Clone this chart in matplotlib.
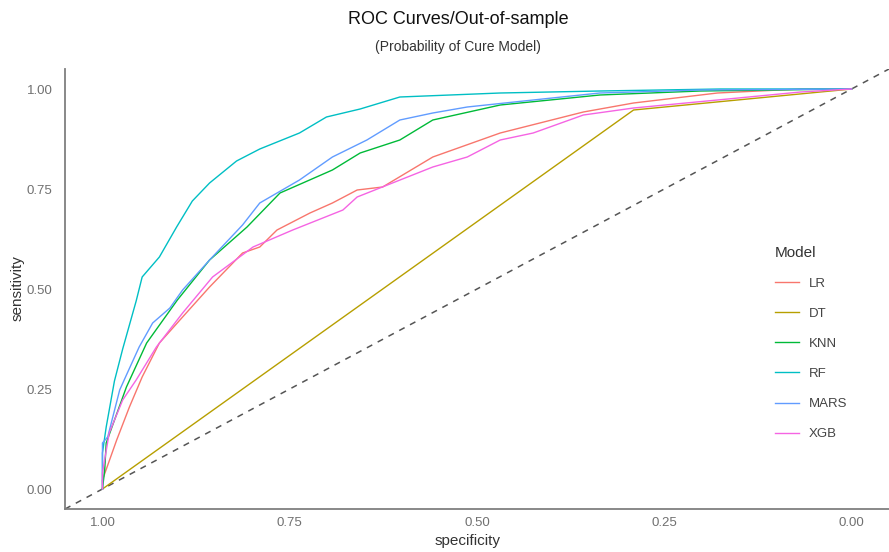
import matplotlib
matplotlib.use("Agg")
import matplotlib.pyplot as plt

plt.rcParams['font.family'] = ['Liberation Sans', 'DejaVu Sans']

models = ["LR", "DT", "KNN", "RF", "MARS", "XGB"]
colors = ["#F8766D", "#B79F00", "#00BA38", "#00BFC4", "#619CFF", "#F564E3"]

# specificity / sensitivity
lr_spec = [1.0, 1.0, 0.981, 0.964, 0.947, 0.924, 0.893, 0.857, 0.813, 0.790, 0.767, 0.723, 0.693, 0.660, 0.626, 0.559, 0.469, 0.358, 0.291, 0.179, 0.068, 0.0]
lr_sens = [0.0, 0.0225, 0.1225, 0.205, 0.28, 0.365, 0.43, 0.505, 0.59, 0.605, 0.6475, 0.69, 0.715, 0.7475, 0.755, 0.83, 0.89, 0.9425, 0.965, 0.99, 1.0, 1.0]

dt_spec = [1.0, 0.291, 0.0]
dt_sens = [0.0, 0.9475, 1.0]

knn_spec = [1.0, 0.997, 0.995, 0.968, 0.941, 0.900, 0.857, 0.807, 0.763, 0.693, 0.656, 0.603, 0.559, 0.469, 0.336, 0.202, 0.0]
knn_sens = [0.0, 0.0475, 0.115, 0.255, 0.365, 0.4725, 0.5725, 0.655, 0.74, 0.7975, 0.84, 0.8725, 0.9225, 0.96, 0.985, 0.995, 1.0]

rf_spec = [1.0, 1.0, 0.995, 0.984, 0.973, 0.955, 0.947, 0.924, 0.901, 0.880, 0.857, 0.821, 0.790, 0.737, 0.701, 0.656, 0.603, 0.469, 0.336, 0.175, 0.0]
rf_sens = [0.0, 0.09, 0.155, 0.27, 0.35, 0.47, 0.53, 0.58, 0.655, 0.72, 0.765, 0.82, 0.85, 0.89, 0.93, 0.95, 0.98, 0.99, 0.995, 1.0, 1.0]

mars_spec = [1.0, 1.0, 0.993, 0.977, 0.968, 0.951, 0.933, 0.910, 0.893, 0.857, 0.813, 0.790, 0.737, 0.693, 0.647, 0.603, 0.559, 0.513, 0.425, 0.336, 0.202, 0.0]
mars_sens = [0.0, 0.115, 0.13, 0.2475, 0.285, 0.355, 0.415, 0.4525, 0.4975, 0.5725, 0.66, 0.715, 0.7725, 0.83, 0.8725, 0.9225, 0.94, 0.955, 0.9725, 0.99, 0.9975, 1.0]

xgb_spec = [1.0, 1.0, 0.991, 0.973, 0.955, 0.928, 0.893, 0.853, 0.799, 0.746, 0.679, 0.660, 0.559, 0.513, 0.469, 0.425, 0.358, 0.291, 0.179, 0.068, 0.0]
xgb_sens = [0.0, 0.04, 0.14, 0.2225, 0.2725, 0.355, 0.44, 0.53, 0.605, 0.6475, 0.6975, 0.73, 0.805, 0.83, 0.8725, 0.89, 0.935, 0.9525, 0.9725, 0.9925, 1.0]

specs = [lr_spec, dt_spec, knn_spec, rf_spec, mars_spec, xgb_spec]
senss = [lr_sens, dt_sens, knn_sens, rf_sens, mars_sens, xgb_sens]

xticks = [1.0, 0.75, 0.5, 0.25, 0.0]
yticks = [0.0, 0.25, 0.5, 0.75, 1.0]

fig = plt.figure(figsize=(8.89, 5.52), dpi=100)
ax = fig.add_axes([65/889, 1-509/552, 1-65/889, (509-69)/552])

# chance line
ax.plot([1.05, -0.05], [-0.05, 1.05], color="#555555", lw=1.1, ls=(0, (4, 4)), zorder=1)

handles = []
for name, c, sx, sy in zip(models, colors, specs, senss):
    h, = ax.plot(sx, sy, color=c, lw=1.0, label=name, zorder=2)
    handles.append(h)

ax.set_xlim(1.05, -0.05)
ax.set_ylim(-0.05, 1.05)
ax.set_xticks(xticks)
ax.set_xticklabels(["%.2f" % v for v in xticks])
ax.set_yticks(yticks)
ax.set_yticklabels(["%.2f" % v for v in yticks])
ax.tick_params(length=0, labelsize=9.5, colors="#707070")
ax.tick_params(axis="x", pad=6)
ax.tick_params(axis="y", pad=9)
for s in ["top", "right"]:
    ax.spines[s].set_visible(False)
for s in ["left", "bottom"]:
    ax.spines[s].set_color("#7f7f7f")
    ax.spines[s].set_linewidth(1.3)

fig.text(468/889, 1-541/552, "specificity", ha="center", va="center", fontsize=11, color="#333333")
fig.text(18/889, 1-288/552, "sensitivity", ha="center", va="center", rotation=90, fontsize=11, color="#333333")
fig.text(458/889, 1-20/552, "ROC Curves/Out-of-sample", ha="center", va="center", fontsize=13, color="#111111")
fig.text(458/889, 1-47/552, "(Probability of Cure Model)", ha="center", va="center", fontsize=10, color="#333333")

leg = ax.legend(handles=handles, title="Model", loc="upper left",
                bbox_to_anchor=(763/889, 1-234/552), bbox_transform=fig.transFigure,
                frameon=False, fontsize=9.5, title_fontsize=11,
                labelspacing=1.35, handlelength=1.8, handletextpad=0.8)
leg._legend_box.align = "left"
for t in leg.get_texts():
    t.set_color("#444444")
leg.get_title().set_color("#333333")

fig.savefig("out.png", dpi=100)
